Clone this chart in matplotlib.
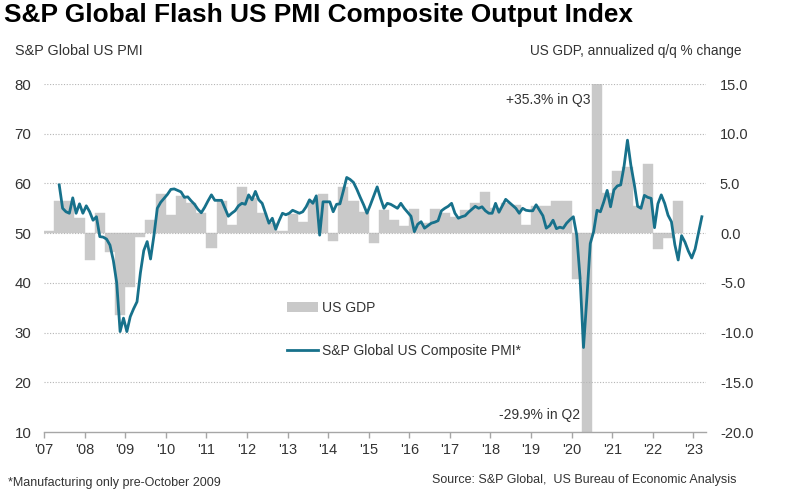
import numpy as np
import matplotlib.pyplot as plt
from matplotlib.lines import Line2D
from matplotlib.patches import Patch

plt.rcParams['font.family'] = ['Liberation Sans', 'DejaVu Sans']

# monthly S&P Global US composite PMI, May 2007 - Mar 2023
pmi_2007 = [59.7, 55.0, 54.3, 54.0, 57.1, 54.0, 55.9, 54.0]  # May-Dec
pmi_2008 = [55.5, 54.3, 52.6, 53.3, 49.3, 49.2, 48.8, 47.6, 44.5, 40.0, 30.2, 32.9]
pmi_2009 = [30.2, 33.2, 34.8, 36.2, 42.0, 46.5, 48.3, 44.8, 49.5, 55.0, 56.2, 57.0]
pmi_2010 = [57.8, 58.8, 58.9, 58.6, 58.3, 57.2, 57.3, 56.5, 55.8, 54.8, 54.1, 55.2]
pmi_2011 = [56.5, 57.7, 56.6, 56.6, 56.6, 55.0, 53.4, 54.0, 54.5, 55.5, 56.0, 55.8]
pmi_2012 = [57.7, 56.7, 58.4, 56.7, 56.0, 54.0, 52.0, 53.0, 50.8, 52.5, 54.0, 53.7]
pmi_2013 = [54.0, 54.6, 54.3, 54.0, 54.3, 55.3, 56.7, 56.0, 57.5, 49.6, 56.3, 56.3]
pmi_2014 = [56.3, 54.3, 55.8, 55.9, 58.5, 61.2, 60.8, 60.2, 58.8, 57.2, 55.7, 54.0]
pmi_2015 = [55.7, 57.5, 59.3, 57.0, 55.0, 56.0, 55.8, 55.4, 55.0, 56.0, 55.0, 54.2]
pmi_2016 = [53.4, 50.3, 51.8, 52.3, 51.0, 51.5, 52.0, 52.2, 52.5, 54.5, 55.0, 55.4]
pmi_2017 = [56.0, 54.0, 53.0, 53.3, 53.5, 54.2, 54.8, 55.4, 55.0, 55.3, 54.5, 54.0]
pmi_2018 = [54.0, 56.0, 54.2, 55.5, 56.8, 56.2, 55.6, 55.0, 54.0, 55.0, 54.6, 54.5]
pmi_2019 = [54.5, 55.7, 54.6, 53.5, 51.0, 51.5, 52.6, 50.9, 51.2, 51.0, 52.0, 52.7]
pmi_2020 = [53.3, 49.6, 40.9, 27.0, 37.0, 47.9, 50.3, 54.6, 54.3, 56.3, 58.6, 55.3]
pmi_2021 = [58.7, 59.5, 59.7, 63.5, 68.7, 63.7, 59.9, 55.4, 55.0, 57.6, 57.2, 57.0]
pmi_2022 = [51.1, 55.9, 57.7, 56.0, 53.6, 52.3, 47.7, 44.6, 49.5, 48.2, 46.4, 45.0]
pmi_2023 = [46.8, 50.1, 53.3]  # Jan-Mar

# quarterly US GDP, annualized q/q %, 2007 Q1 - 2022 Q3
gdp = [0.2, 3.2, 3.2, 1.5,
       -2.7, 2.0, -1.9, -8.2,
       -5.4, -0.4, 1.3, 3.9,
       1.8, 3.7, 3.0, 2.0,
       -1.5, 3.2, 0.8, 4.6,
       3.5, 2.0, 1.0, 0.2,
       1.9, 1.1, 3.3, 3.9,
       -0.8, 4.6, 3.2, 2.1,
       -1.0, 2.3, 1.3, 0.7,
       2.4, 1.0, 2.4, 2.0,
       1.6, 2.3, 3.0, 4.1,
       2.5, 3.0, 2.8, 0.8,
       2.7, 2.7, 3.2, 3.2,
       -4.6, -29.9, 35.3, 4.0,
       6.3, 6.7, 2.7, 7.0,
       -1.6, -0.5, 3.2]

years = list(range(2007, 2024))
year_labels = ["'" + str(y)[2:] for y in years]

pmi = (pmi_2007 + pmi_2008 + pmi_2009 + pmi_2010 + pmi_2011 + pmi_2012 + pmi_2013
       + pmi_2014 + pmi_2015 + pmi_2016 + pmi_2017 + pmi_2018 + pmi_2019 + pmi_2020
       + pmi_2021 + pmi_2022 + pmi_2023)
pmi_x = 2007 + (4 + np.arange(len(pmi)) + 0.5) / 12
gdp_x = 2007 + np.arange(len(gdp)) * 0.25

teal = '#17718b'
grey_bar = '#c9c9c9'
txt = '#333333'

fig = plt.figure(figsize=(7.88, 4.98), dpi=100)
ax = fig.add_axes([44 / 788, 1 - 432 / 498, (706 - 44) / 788, (432 - 84) / 498])
ax2 = ax.twinx()

ax2.bar(gdp_x, gdp, width=0.25, align='edge', color=grey_bar,
        edgecolor=grey_bar, linewidth=0.3)
ax2.set_ylim(-20, 15)
ax2.set_yticks(np.arange(-20, 16, 5))
ax2.set_yticklabels([f'{v:.1f}' for v in np.arange(-20, 16, 5)])

ax.plot(pmi_x, pmi, color=teal, lw=2.0, solid_joinstyle='round')
ax.set_ylim(10, 80)
ax.set_yticks(range(10, 81, 10))
ax.set_xlim(2007, 2023.31)
ax.set_xticks(years)
ax.set_xticklabels(year_labels)

# line above bars
ax.set_zorder(ax2.get_zorder() + 1)
ax.patch.set_visible(False)

for g in range(20, 81, 10):
    ax.axhline(g, color='#b5b5b5', lw=0.8, ls=(0, (1, 1.5)), zorder=0)

for a in (ax, ax2):
    for s in a.spines.values():
        s.set_visible(False)
ax.spines['bottom'].set_visible(True)
ax.spines['bottom'].set_color('#a6a6a6')
ax.spines['bottom'].set_linewidth(1.0)

ax.tick_params(axis='y', length=0, pad=9, labelsize=10.8, labelcolor=txt)
ax2.tick_params(axis='y', length=0, pad=10, labelsize=10.5, labelcolor=txt)
ax.tick_params(axis='x', length=4, width=1, color='#a6a6a6', pad=4,
               labelsize=10.5, labelcolor=txt)

ax2.text(2020.47, 13.4, '+35.3% in Q3', ha='right', va='center', fontsize=10, color=txt)
ax2.text(2020.22, -18.3, '-29.9% in Q2', ha='right', va='center', fontsize=10, color=txt)

handles = [Patch(facecolor=grey_bar, edgecolor='none'),
           Line2D([0], [0], color=teal, lw=2)]
leg = ax.legend(handles, ['US GDP', 'S&P Global US Composite PMI*'],
                loc='upper left', bbox_to_anchor=(287 / 788, 1 - 301 / 498),
                bbox_transform=fig.transFigure, frameon=False, fontsize=10,
                handlelength=2.2, handletextpad=0.35, labelspacing=2.1,
                borderpad=0, borderaxespad=0)
for t in leg.get_texts():
    t.set_color(txt)

fig.text(4 / 788, 1 - 15 / 498, 'S&P Global Flash US PMI Composite Output Index',
         fontsize=18.9, fontweight='bold', va='center', ha='left', color='black')
fig.text(15 / 788, 1 - 51 / 498, 'S&P Global US PMI', fontsize=10.4,
         va='center', ha='left', color=txt)
fig.text(742 / 788, 1 - 51 / 498, 'US GDP, annualized q/q % change', fontsize=9.8,
         va='center', ha='right', color=txt)
fig.text(8 / 788, 1 - 483 / 498, '*Manufacturing only pre-October 2009', fontsize=9,
         va='center', ha='left', color=txt)
fig.text(737 / 788, 1 - 480 / 498, 'Source: S&P Global,  US Bureau of Economic Analysis',
         fontsize=9, va='center', ha='right', color=txt)

fig.savefig('out.png', dpi=100)
